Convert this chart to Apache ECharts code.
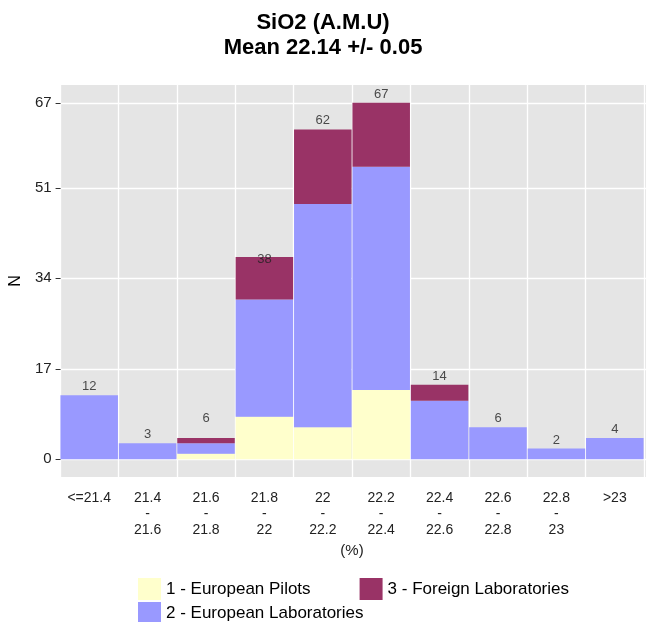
<!DOCTYPE html>
<html>
<head>
<meta charset="utf-8">
<title>SiO2 (A.M.U)</title>
<script src="https://cdn.jsdelivr.net/npm/echarts@6/dist/echarts.min.js"></script>
<style>
  html, body { margin: 0; padding: 0; background: #fff; }
  #chart { width: 646px; height: 622px; }
</style>
</head>
<body>
<div id="chart"></div>
<script>
  // classes of SiO2 (%)
  const categories = ['<=21.4', '21.4\n-\n21.6', '21.6\n-\n21.8', '21.8\n-\n22', '22\n-\n22.2',
    '22.2\n-\n22.4', '22.4\n-\n22.6', '22.6\n-\n22.8', '22.8\n-\n23', '>23']
  const pilots = [0, 0, 1, 8, 6, 13, 0, 0, 0, 0]
  const europeanLabs = [12, 3, 2, 22, 42, 42, 11, 6, 2, 4]
  const foreignLabs = [0, 0, 1, 8, 14, 12, 3, 0, 0, 0]
  // numbers printed over the bars and the height they sit at
  const totalLabels = [12, 3, 6, 38, 62, 67, 14, 6, 2, 4]
  const labelHeights = [12, 3, 6, 36, 62, 67, 14, 6, 2, 4]
  const yTicks = [0, 17, 34, 51, 67]

  const font = 'Liberation Sans, Arial, sans-serif'
  const yMin = -3.35
  const yMax = 70.35

  const myChart = echarts.init(document.getElementById('chart'))
  const option = {
    backgroundColor: '#fff',
    animation: false,
    title: {
      text: 'SiO2 (A.M.U)\nMean 22.14 +/- 0.05',
      left: 'center',
      top: 5,
      padding: [5, 0, 5, 58],
      textStyle: {
        fontFamily: font,
        fontSize: 22,
        fontWeight: 'bold',
        lineHeight: 25,
        color: '#000'
      }
    },
    legend: [
      {
        data: ['1 - European Pilots', '3 - Foreign Laboratories'],
        left: 138,
        top: 578,
        padding: 0,
        itemWidth: 23,
        itemHeight: 22,
        itemGap: 49,
        icon: 'rect',
        textStyle: { fontFamily: font, fontSize: 17, color: '#000' }
      },
      {
        data: ['2 - European Laboratories'],
        left: 138,
        top: 602,
        padding: 0,
        itemWidth: 23,
        itemHeight: 22,
        icon: 'rect',
        textStyle: { fontFamily: font, fontSize: 17, color: '#000' }
      }
    ],
    grid: [
      // grey panel, a little wider than the bars
      {
        left: 54,
        right: 0,
        top: 85,
        bottom: 145,
        show: true,
        backgroundColor: '#E5E5E5',
        borderWidth: 0
      },
      // bars
      {
        left: 60,
        right: 2,
        top: 85,
        bottom: 145
      }
    ],
    xAxis: [
      {
        gridIndex: 0,
        type: 'value',
        min: 0,
        max: 1,
        show: false
      },
      {
        gridIndex: 1,
        type: 'category',
        data: categories,
        name: '(%)',
        nameLocation: 'middle',
        nameGap: 63,
        nameTextStyle: { fontFamily: font, fontSize: 15, color: '#222' },
        axisLine: { show: false },
        axisTick: { show: false },
        splitLine: { show: true, lineStyle: { color: '#fff', width: 1.3 } },
        axisLabel: {
          interval: 0,
          fontFamily: font,
          fontSize: 14,
          lineHeight: 16,
          color: '#222',
          margin: 13
        }
      }
    ],
    yAxis: [
      {
        gridIndex: 0,
        type: 'value',
        min: yMin,
        max: yMax,
        name: 'N',
        nameLocation: 'middle',
        nameRotate: 90,
        nameGap: 31,
        nameTextStyle: { fontFamily: font, fontSize: 16, color: '#000' },
        axisLine: { show: false },
        axisTick: { show: true, length: 5, customValues: yTicks, lineStyle: { color: '#333' } },
        splitLine: { show: true, lineStyle: { color: '#fff', width: 1.3 } },
        axisLabel: {
          customValues: yTicks,
          fontFamily: font,
          fontSize: 15,
          color: '#222',
          margin: 9
        }
      },
      {
        gridIndex: 1,
        type: 'value',
        min: yMin,
        max: yMax,
        show: false,
        splitLine: { show: false }
      }
    ],
    series: [
      {
        name: '1 - European Pilots',
        type: 'bar',
        stack: 'n',
        xAxisIndex: 1,
        yAxisIndex: 1,
        barCategoryGap: '1.5%',
        data: pilots,
        itemStyle: { color: '#FFFFCC' }
      },
      {
        name: '2 - European Laboratories',
        type: 'bar',
        stack: 'n',
        xAxisIndex: 1,
        yAxisIndex: 1,
        barCategoryGap: '1.5%',
        data: europeanLabs,
        itemStyle: { color: '#9999FF' }
      },
      {
        name: '3 - Foreign Laboratories',
        type: 'bar',
        stack: 'n',
        xAxisIndex: 1,
        yAxisIndex: 1,
        barCategoryGap: '1.5%',
        data: foreignLabs,
        itemStyle: { color: '#993366' }
      },
      {
        name: 'totals',
        type: 'scatter',
        xAxisIndex: 1,
        yAxisIndex: 1,
        symbolSize: 0,
        silent: true,
        data: labelHeights,
        label: {
          show: true,
          position: 'top',
          distance: 2,
          formatter: function (p) {
            return String(totalLabels[p.dataIndex])
          },
          fontFamily: font,
          fontSize: 13,
          color: '#222'
        }
      }
    ]
  }
  myChart.setOption(option)
</script>
</body>
</html>
